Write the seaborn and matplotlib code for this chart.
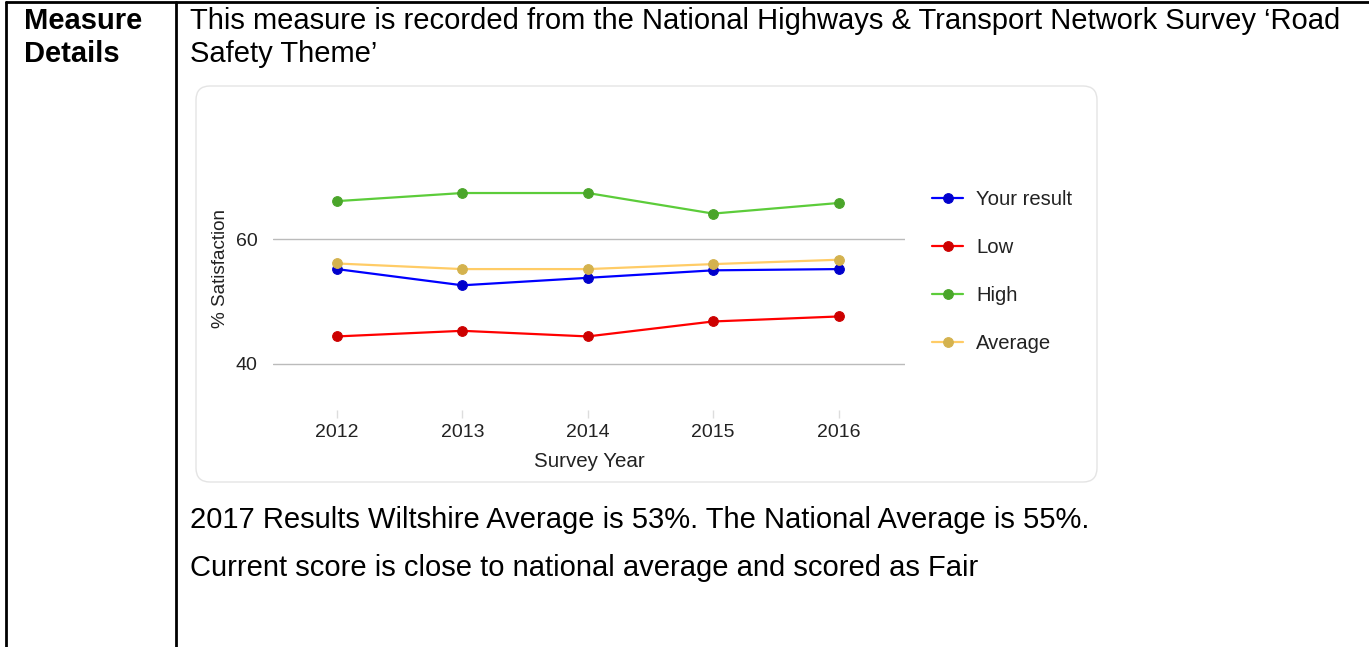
import matplotlib
matplotlib.use("Agg")
import matplotlib.pyplot as plt
from matplotlib.patches import FancyBboxPatch
import seaborn as sns
import pandas as pd

# data
years = [2012, 2013, 2014, 2015, 2016]
your_result = [55.2, 52.6, 53.8, 55.0, 55.2]
low = [44.4, 45.3, 44.4, 46.8, 47.6]
high = [66.1, 67.4, 67.4, 64.1, 65.8]
average = [56.1, 55.2, 55.2, 56.0, 56.7]

series = ["Your result", "Low", "High", "Average"]
line_colors = ["#0000ff", "#ff0000", "#5ccc3a", "#ffcc66"]
marker_colors = ["#0000cc", "#cc0000", "#4aa52a", "#d4b24e"]

df = pd.DataFrame({"Survey Year": years, "Your result": your_result,
                   "Low": low, "High": high, "Average": average})

sns.set_theme(style="white")
plt.rcParams["font.family"] = ["Liberation Sans", "DejaVu Sans"]
plt.rcParams["text.color"] = "black"

W, H = 1369, 647
fig = plt.figure(figsize=(W / 100, H / 100), dpi=100)

# background layer in pixel units: table borders, text, chart frame
bg = fig.add_axes([0, 0, 1, 1])
bg.set_xlim(0, W)
bg.set_ylim(H, 0)
bg.axis("off")
bg.plot([6, W], [2, 2], color="black", lw=2)
bg.plot([6, 6], [2, H], color="black", lw=2)
bg.plot([176, 176], [2, H], color="black", lw=2)

fs = 21
bg.text(24, 29, "Measure", fontsize=fs, fontweight="bold", va="baseline")
bg.text(24, 62.5, "Details", fontsize=fs, fontweight="bold", va="baseline")
bg.text(190, 29, "This measure is recorded from the National Highways & Transport Network Survey \u2018Road",
        fontsize=fs, va="baseline")
bg.text(190, 62.5, "Safety Theme\u2019", fontsize=fs, va="baseline")
bg.text(190, 528, "2017 Results Wiltshire Average is 53%. The National Average is 55%.",
        fontsize=fs, va="baseline")
bg.text(190, 576, "Current score is close to national average and scored as Fair",
        fontsize=fs, va="baseline")

bg.add_patch(FancyBboxPatch((196, 86), 901, 396, boxstyle="round,pad=0,rounding_size=14",
                            fc="white", ec="#e4e4e4", lw=1))

# chart
ax = fig.add_axes([273 / W, 1 - 410 / H, 632 / W, 260 / H])
ax.patch.set_alpha(0)
for name, lc, mc in zip(series, line_colors, marker_colors):
    sns.lineplot(data=df, x="Survey Year", y=name, ax=ax, color=lc, lw=1.6,
                 marker="o", markersize=7, markerfacecolor=mc, markeredgecolor=mc,
                 label=name)

ax.set_xlim(2011.49, 2016.53)
ax.set_ylim(32.6, 74.3)
ax.set_xticks(years)
ax.set_xticklabels([str(y) for y in years])
ax.set_yticks([40, 60])
ax.grid(axis="y", color="#bbbbbb", lw=1)
ax.grid(axis="x", visible=False)
for s in ax.spines.values():
    s.set_visible(False)
ax.tick_params(axis="y", length=0, pad=11, labelsize=14, labelcolor="#222222")
ax.tick_params(axis="x", length=6, width=1, color="#dddddd", pad=4, labelsize=14,
               labelcolor="#222222", bottom=True)
ax.set_xlabel("Survey Year", fontsize=14.8, color="#222222", labelpad=8)
ax.set_ylabel("% Satisfaction", fontsize=13.6, color="#222222")
ax.yaxis.set_label_coords(-0.0696, 0.546)

ax.legend(loc="upper left", bbox_to_anchor=(932 / W, 1 - 190 / H),
          bbox_transform=fig.transFigure, frameon=False, fontsize=14.6,
          borderpad=0, borderaxespad=0, handlelength=1.55, handletextpad=0.62,
          labelspacing=1.43, labelcolor="#222222")

fig.savefig("out.png", dpi=100)
